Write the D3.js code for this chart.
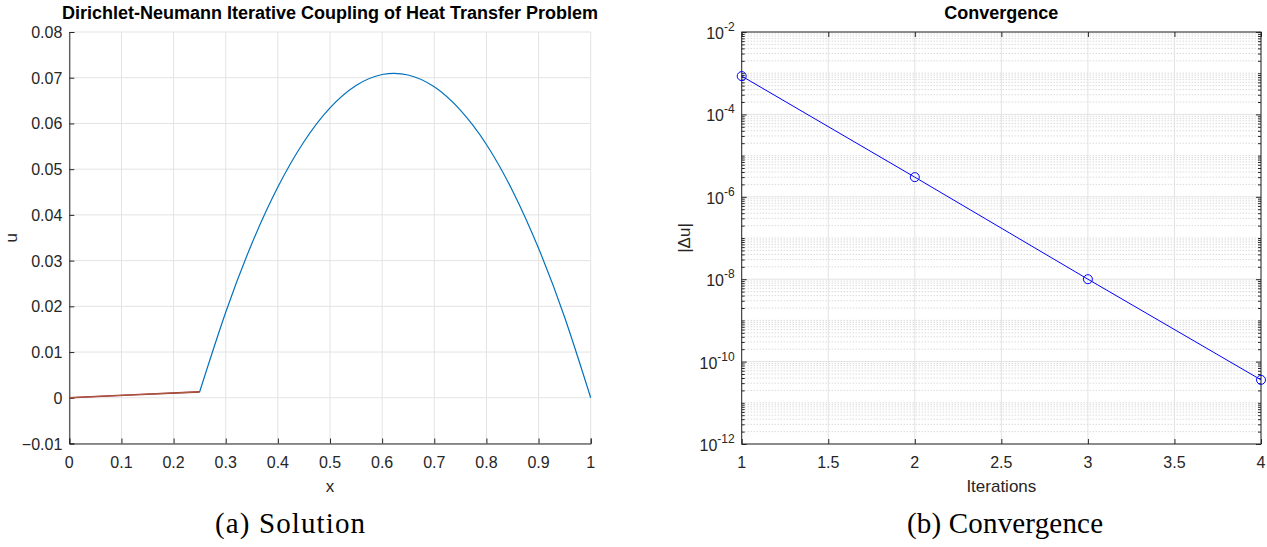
<!DOCTYPE html>
<html>
<head>
<meta charset="utf-8">
<script src="https://cdn.jsdelivr.net/npm/d3@7"></script>
<style>
body { margin: 0; background: #fff; }
svg { display: block; }
text { font-family: "Liberation Sans", Arial, sans-serif; fill: #262626; }
</style>
</head>
<body>
<svg id="fig" width="1267" height="547"></svg>
<script>
// --- data ---
// solution, subdomain 1 (two overlapping iterates)
var sub1X = [0, 0.125, 0.25];
var sub1U = [0, 0.00065, 0.0013];
// solution, subdomain 2
var sub2X = [0.25, 0.30, 0.35, 0.40, 0.45, 0.50, 0.55, 0.60, 0.65, 0.70, 0.75, 0.80, 0.85, 0.90, 0.95, 1.00];
var sub2U = [0.0013, 0.0187, 0.0337, 0.0461, 0.0560, 0.0634, 0.0683, 0.0707, 0.0706, 0.0680, 0.0629, 0.0554, 0.0453, 0.0327, 0.0176, 0];
// convergence
var iters = [1, 2, 3, 4];
var deltaU = [8.5e-4, 3.0e-6, 1.0e-8, 3.6e-11];

var solXTicks = [0, 0.1, 0.2, 0.3, 0.4, 0.5, 0.6, 0.7, 0.8, 0.9, 1];
var solYTicks = [-0.01, 0, 0.01, 0.02, 0.03, 0.04, 0.05, 0.06, 0.07, 0.08];
var convXTicks = [1, 1.5, 2, 2.5, 3, 3.5, 4];
var convYExp = [-2, -4, -6, -8, -10, -12];

var axisCol = "#262626";
var gridCol = "#e3e3e3";
var tickFont = "16px";
var labelFont = "17px";
var svg = d3.select("#fig");

function fmt(v) {
	if (v == 0) return "0";
	return d3.format("")(+v.toFixed(2));
}

/*
 * (a) Solution
 */
var L = {left: 69.3, right: 590.7, top: 32, bottom: 443.5};
var x1 = d3.scaleLinear().domain([0, 1]).range([L.left, L.right]);
var y1 = d3.scaleLinear().domain([-0.01, 0.08]).range([L.bottom, L.top]);

var g1 = svg.append("g");

// grid
g1.selectAll(".vgrid").data(solXTicks).enter().append("line")
	.attr("x1", function(d) { return x1(d); }).attr("x2", function(d) { return x1(d); })
	.attr("y1", L.top).attr("y2", L.bottom)
	.attr("stroke", gridCol).attr("stroke-width", 1);
g1.selectAll(".hgrid").data(solYTicks).enter().append("line")
	.attr("x1", L.left).attr("x2", L.right)
	.attr("y1", function(d) { return y1(d); }).attr("y2", function(d) { return y1(d); })
	.attr("stroke", gridCol).attr("stroke-width", 1);

// axes (inward ticks)
var xa1 = d3.axisTop(x1).tickValues(solXTicks).tickSize(5).tickFormat("");
g1.append("g").attr("transform", "translate(0," + L.bottom + ")").call(xa1);
var ya1 = d3.axisRight(y1).tickValues(solYTicks).tickSize(5).tickFormat("");
g1.append("g").attr("transform", "translate(" + L.left + ",0)").call(ya1);
g1.selectAll(".domain, .tick line").attr("stroke", axisCol).attr("stroke-width", 1);

g1.selectAll(".xlab1").data(solXTicks).enter().append("text")
	.attr("x", function(d) { return x1(d); }).attr("y", 468)
	.attr("text-anchor", "middle").style("font-size", tickFont)
	.text(fmt);
g1.selectAll(".ylab1").data(solYTicks).enter().append("text")
	.attr("x", L.left - 7).attr("y", function(d) { return y1(d) + 6; })
	.attr("text-anchor", "end").style("font-size", tickFont)
	.text(fmt);

// lines
var line1 = d3.line()
	.x(function(d) { return x1(d[0]); })
	.y(function(d) { return y1(d[1]); });
var s1 = d3.zip(sub1X, sub1U);
g1.append("path").datum(s1).attr("d", line1)
	.attr("fill", "none").attr("stroke", "#A2142F").attr("stroke-width", 1.6);
g1.append("path").datum(s1).attr("d", line1)
	.attr("fill", "none").attr("stroke", "#A9733F").attr("stroke-width", 1.1).attr("opacity", 0.8);
g1.append("path").datum(d3.zip(sub2X, sub2U)).attr("d", line1.curve(d3.curveNatural))
	.attr("fill", "none").attr("stroke", "#0072BD").attr("stroke-width", 1.2);

g1.append("text").attr("x", (L.left + L.right) / 2).attr("y", 18.5)
	.attr("text-anchor", "middle").style("font-size", "18px").style("font-weight", "bold")
	.style("fill", "#000")
	.text("Dirichlet-Neumann Iterative Coupling of Heat Transfer Problem");
g1.append("text").attr("x", (L.left + L.right) / 2).attr("y", 492)
	.attr("text-anchor", "middle").style("font-size", labelFont).text("x");
g1.append("text").attr("transform", "translate(17," + ((L.top + L.bottom) / 2) + ") rotate(-90)")
	.attr("text-anchor", "middle").style("font-size", labelFont).text("u");

/*
 * (b) Convergence
 */
var R = {left: 741.7, right: 1261, top: 32, bottom: 444};
var x2 = d3.scaleLinear().domain([1, 4]).range([R.left, R.right]);
var y2 = d3.scaleLog().domain([1e-12, 1e-2]).range([R.bottom, R.top]);

var g2 = svg.append("g");

// minor ticks/grid: k * 10^n, plus odd decades
var minorVals = [];
for (var e = -12; e < -2; e++) {
	for (var k = 1; k <= 9; k++) {
		if (k == 1 && e % 2 == 0) continue;
		minorVals.push(k * Math.pow(10, e));
	}
}
var majorVals = convYExp.map(function(e) { return Math.pow(10, e); });

g2.selectAll(".mgrid").data(minorVals).enter().append("line")
	.attr("x1", R.left).attr("x2", R.right)
	.attr("y1", function(d) { return y2(d); }).attr("y2", function(d) { return y2(d); })
	.attr("stroke", "#bdbdbd").attr("stroke-width", 0.8).attr("stroke-dasharray", "1,2");
g2.selectAll(".vgrid").data(convXTicks).enter().append("line")
	.attr("x1", function(d) { return x2(d); }).attr("x2", function(d) { return x2(d); })
	.attr("y1", R.top).attr("y2", R.bottom)
	.attr("stroke", gridCol).attr("stroke-width", 1);
g2.selectAll(".hgrid").data(majorVals).enter().append("line")
	.attr("x1", R.left).attr("x2", R.right)
	.attr("y1", function(d) { return y2(d); }).attr("y2", function(d) { return y2(d); })
	.attr("stroke", gridCol).attr("stroke-width", 1);

// box
g2.append("rect").attr("x", R.left).attr("y", R.top)
	.attr("width", R.right - R.left).attr("height", R.bottom - R.top)
	.attr("fill", "none").attr("stroke", axisCol).attr("stroke-width", 1);

// ticks, all four sides
g2.append("g").attr("transform", "translate(0," + R.bottom + ")")
	.call(d3.axisTop(x2).tickValues(convXTicks).tickSize(5).tickFormat(""));
g2.append("g").attr("transform", "translate(0," + R.top + ")")
	.call(d3.axisBottom(x2).tickValues(convXTicks).tickSize(5).tickFormat(""));
g2.append("g").attr("transform", "translate(" + R.left + ",0)")
	.call(d3.axisRight(y2).tickValues(majorVals).tickSize(5).tickFormat(""));
g2.append("g").attr("transform", "translate(" + R.right + ",0)")
	.call(d3.axisLeft(y2).tickValues(majorVals).tickSize(5).tickFormat(""));
g2.append("g").attr("transform", "translate(" + R.left + ",0)")
	.call(d3.axisRight(y2).tickValues(minorVals).tickSize(3).tickFormat(""));
g2.append("g").attr("transform", "translate(" + R.right + ",0)")
	.call(d3.axisLeft(y2).tickValues(minorVals).tickSize(3).tickFormat(""));
g2.selectAll(".domain").remove();
g2.selectAll(".tick line").attr("stroke", axisCol).attr("stroke-width", 1);

g2.selectAll(".xlab2").data(convXTicks).enter().append("text")
	.attr("x", function(d) { return x2(d); }).attr("y", 468)
	.attr("text-anchor", "middle").style("font-size", tickFont)
	.text(function(d) { return d; });
var yl = g2.selectAll(".ylab2").data(convYExp).enter().append("text")
	.attr("x", R.left - 7).attr("y", function(d) { return y2(Math.pow(10, d)) + 7; })
	.attr("text-anchor", "end").style("font-size", tickFont);
yl.append("tspan").text("10");
yl.append("tspan").attr("dy", -8).style("font-size", "12px").text(function(d) { return d; });

// data line
g2.append("path").datum(d3.zip(iters, deltaU))
	.attr("d", d3.line().x(function(d) { return x2(d[0]); }).y(function(d) { return y2(d[1]); }))
	.attr("fill", "none").attr("stroke", "#0000FF").attr("stroke-width", 1);
g2.selectAll(".mark").data(d3.zip(iters, deltaU)).enter().append("circle")
	.attr("cx", function(d) { return x2(d[0]); }).attr("cy", function(d) { return y2(d[1]); })
	.attr("r", 4.5).attr("fill", "none").attr("stroke", "#0000FF").attr("stroke-width", 1);

g2.append("text").attr("x", (R.left + R.right) / 2).attr("y", 18.5)
	.attr("text-anchor", "middle").style("font-size", "18px").style("font-weight", "bold")
	.style("fill", "#000").text("Convergence");
g2.append("text").attr("x", (R.left + R.right) / 2).attr("y", 492)
	.attr("text-anchor", "middle").style("font-size", labelFont).text("Iterations");
g2.append("text").attr("transform", "translate(690," + ((R.top + R.bottom) / 2) + ") rotate(-90)")
	.attr("text-anchor", "middle").style("font-size", labelFont).text("|\u0394u|");

// captions
svg.append("text").attr("x", 290).attr("y", 533).attr("text-anchor", "middle")
	.attr("textLength", 150).attr("lengthAdjust", "spacing")
	.style("font-family", "'Liberation Serif', 'DejaVu Serif', serif").style("font-size", "29px")
	.style("fill", "#000").text("(a) Solution");
svg.append("text").attr("x", 1005).attr("y", 533).attr("text-anchor", "middle")
	.attr("textLength", 196).attr("lengthAdjust", "spacing")
	.style("font-family", "'Liberation Serif', 'DejaVu Serif', serif").style("font-size", "29px")
	.style("fill", "#000").text("(b) Convergence");
</script>
</body>
</html>
